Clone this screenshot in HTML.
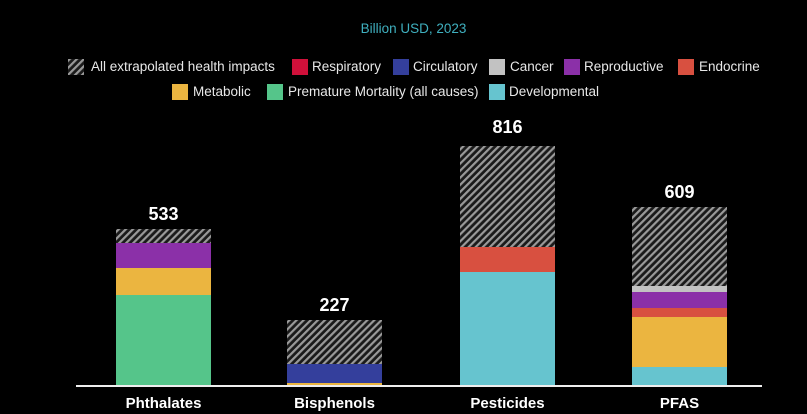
<!DOCTYPE html>
<html><head><style>
body{margin:0;background:#000;width:807px;height:414px;overflow:hidden;position:relative;font-family:"Liberation Sans",sans-serif;}
.t{position:absolute;color:#fff;white-space:nowrap;}
.lg{position:absolute;font-size:13.5px;color:#e8e8e8;white-space:nowrap;top:0;}
.sw{position:absolute;width:16px;height:16px;}
</style></head><body>
<svg width="807" height="414" style="position:absolute;left:0;top:0">
<defs>
<pattern id="h" width="5" height="5" patternUnits="userSpaceOnUse" patternTransform="rotate(45)">
<rect width="5" height="5" fill="#1a1a1a"/><rect width="2.2" height="5" fill="#9a9a9a"/>
</pattern>
</defs>
<!-- legend hatch icon -->
<rect x="68" y="59" width="16" height="16" fill="url(#h)"/>
<!-- Phthalates -->
<rect x="116" y="229" width="95" height="14" fill="url(#h)"/>
<rect x="116" y="243" width="95" height="25" fill="#8b30a8"/>
<rect x="116" y="268" width="95" height="27" fill="#ebb540"/>
<rect x="116" y="295" width="95" height="91" fill="#55c58a"/>
<!-- Bisphenols -->
<rect x="287" y="320" width="95" height="44" fill="url(#h)"/>
<rect x="287" y="364" width="95" height="19" fill="#343f9c"/>
<rect x="287" y="383" width="95" height="3" fill="#ebb540"/>
<!-- Pesticides -->
<rect x="460" y="146" width="95" height="101" fill="url(#h)"/>
<rect x="460" y="247" width="95" height="25" fill="#d85040"/>
<rect x="460" y="272" width="95" height="114" fill="#66c4cf"/>
<!-- PFAS -->
<rect x="632" y="207" width="95" height="79" fill="url(#h)"/>
<rect x="632" y="286" width="95" height="6" fill="#c2c2c2"/>
<rect x="632" y="292" width="95" height="16" fill="#8b30a8"/>
<rect x="632" y="308" width="95" height="9" fill="#d85040"/>
<rect x="632" y="317" width="95" height="50" fill="#ebb540"/>
<rect x="632" y="367" width="95" height="19" fill="#66c4cf"/>
<rect x="76" y="385" width="686" height="2" fill="#eee"/>
</svg>
<div class="t" style="left:0;width:827px;text-align:center;top:21px;font-size:13.5px;color:#3fb0bf">Billion USD, 2023</div>
<div style="position:absolute;left:0;top:59px;width:807px;height:18px">
<span class="lg" style="left:91px">All extrapolated health impacts</span>
<div class="sw" style="left:292px;top:0;background:#d0103a"></div><span class="lg" style="left:312px">Respiratory</span>
<div class="sw" style="left:393px;top:0;background:#343f9c"></div><span class="lg" style="left:413px">Circulatory</span>
<div class="sw" style="left:489px;top:0;background:#c2c2c2"></div><span class="lg" style="left:510px">Cancer</span>
<div class="sw" style="left:564px;top:0;background:#8b30a8"></div><span class="lg" style="left:584px">Reproductive</span>
<div class="sw" style="left:678px;top:0;background:#d85040"></div><span class="lg" style="left:699px">Endocrine</span>
</div>
<div style="position:absolute;left:0;top:84px;width:807px;height:18px">
<div class="sw" style="left:172px;top:0;background:#ebb540"></div><span class="lg" style="left:193px">Metabolic</span>
<div class="sw" style="left:267px;top:0;background:#55c58a"></div><span class="lg" style="left:288px">Premature Mortality (all causes)</span>
<div class="sw" style="left:489px;top:0;background:#66c4cf"></div><span class="lg" style="left:509px">Developmental</span>
</div>
<div class="t" style="left:116px;width:95px;text-align:center;top:204px;font-size:18px;font-weight:bold">533</div>
<div class="t" style="left:287px;width:95px;text-align:center;top:295px;font-size:18px;font-weight:bold">227</div>
<div class="t" style="left:460px;width:95px;text-align:center;top:117px;font-size:18px;font-weight:bold">816</div>
<div class="t" style="left:632px;width:95px;text-align:center;top:182px;font-size:18px;font-weight:bold">609</div>
<div class="t" style="left:96px;width:135px;text-align:center;top:395px;font-size:15px;font-weight:bold">Phthalates</div>
<div class="t" style="left:267px;width:135px;text-align:center;top:395px;font-size:15px;font-weight:bold">Bisphenols</div>
<div class="t" style="left:440px;width:135px;text-align:center;top:395px;font-size:15px;font-weight:bold">Pesticides</div>
<div class="t" style="left:612px;width:135px;text-align:center;top:395px;font-size:15px;font-weight:bold">PFAS</div>
</body></html>
